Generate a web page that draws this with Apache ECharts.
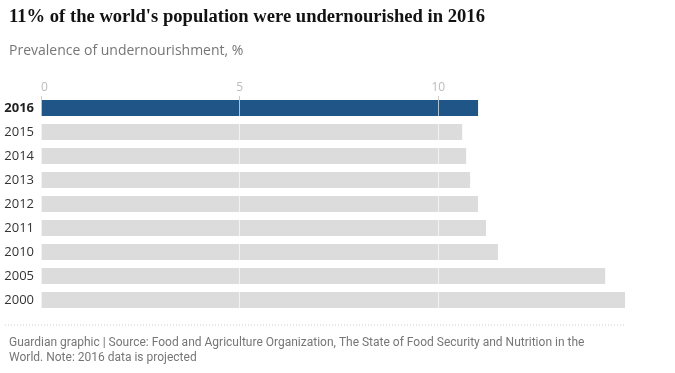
<!DOCTYPE html>
<html><head><meta charset="utf-8">
<script src="https://cdn.jsdelivr.net/npm/echarts@6/dist/echarts.min.js"></script>
<style>html,body{margin:0;padding:0;background:#fff}#c{width:675px;height:373px}</style>
</head><body><div id="c"></div>
<script>
const years = ['2016','2015','2014','2013','2012','2011','2010','2005','2000'];
const prevalence = [11.0, 10.6, 10.7, 10.8, 11.0, 11.2, 11.5, 14.2, 14.7];
const xTicks = [0, 5, 10];
const xMax = 15;
const titleText = "11% of the world's population were undernourished in 2016";
const subtitleText = 'Prevalence of undernourishment, %';
const footerText = 'Guardian graphic | Source: Food and Agriculture Organization, The State of Food Security and Nutrition in the\nWorld. Note: 2016 data is projected';

const chart = echarts.init(document.getElementById('c'), null, {renderer: 'canvas'});
chart.setOption({
  animation: false,
  backgroundColor: '#fff',
  title: [
    {text: titleText, left: 4, top: 3,
     textStyle: {fontFamily: 'Liberation Serif', fontWeight: 'bold', fontSize: 18.6, color: '#121212'}},
    {text: subtitleText, left: 4, top: 39,
     textStyle: {fontFamily: 'Open Sans', fontWeight: 'normal', fontSize: 14, color: '#767676'}},
    {text: footerText, left: 4, top: 330,
     textStyle: {fontFamily: 'Roboto', fontWeight: 'normal', fontSize: 12, lineHeight: 15, color: '#767676'}}
  ],
  grid: {left: 41, right: 38, top: 96, bottom: 61, containLabel: false},
  xAxis: {
    type: 'value', position: 'top', min: 0, max: xMax, interval: 5,
    z: 5,
    axisLine: {show: false},
    axisTick: {show: true, inside: true, length: 4, customValues: xTicks, lineStyle: {color: '#cccccc'}},
    axisLabel: {show: true, margin: 2, color: '#bbbbbb', fontFamily: 'Open Sans', fontSize: 12,
      alignMinLabel: 'left', customValues: xTicks},
    splitLine: {show: true, lineStyle: {color: 'rgba(255,255,255,0.65)', width: 1}}
  },
  yAxis: {
    type: 'category', data: years, inverse: true,
    axisLine: {show: false}, axisTick: {show: false},
    axisLabel: {
      margin: 7, color: '#333', fontFamily: 'Open Sans', fontSize: 13,
      formatter: (v, i) => (i === 0 ? '{b|' + v + '}' : v),
      rich: {b: {fontWeight: 'bold', fontFamily: 'Open Sans', fontSize: 13, color: '#222'}}
    }
  },
  series: [{
    type: 'bar', barWidth: 16, z: 2,
    data: prevalence.map((v, i) => ({value: v, itemStyle: {color: i === 0 ? '#1f5587' : '#dcdcdc'}})),
    emphasis: {disabled: true}
  }],
  graphic: [{
    type: 'line', shape: {x1: 5, y1: 325, x2: 625, y2: 325},
    style: {stroke: '#cfcfcf', lineWidth: 1, lineDash: [1, 2]}
  }]
});
</script></body></html>
